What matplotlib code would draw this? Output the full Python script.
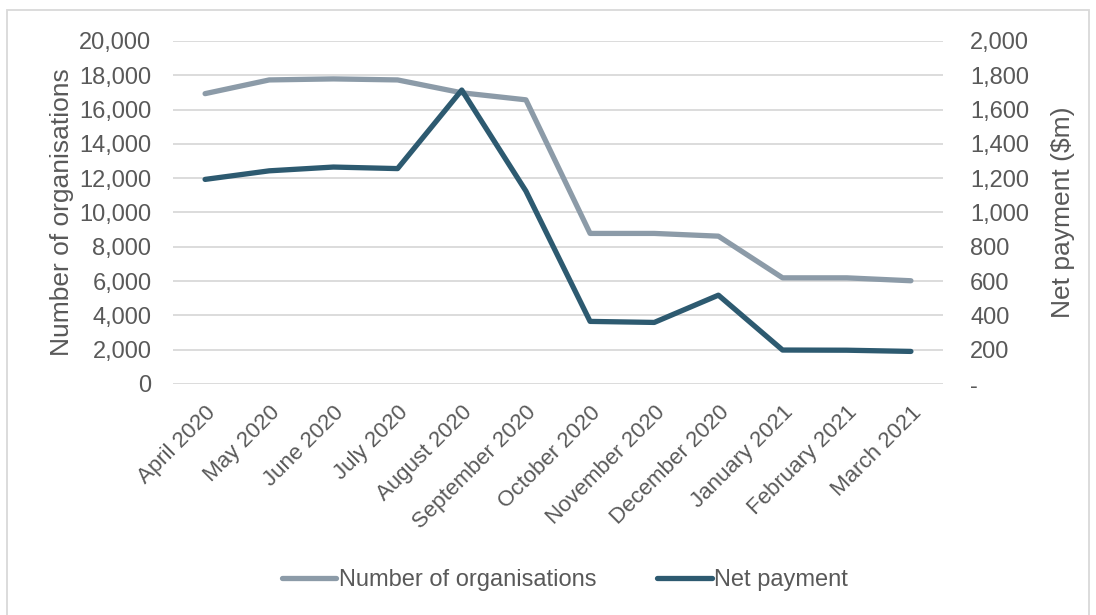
import matplotlib.pyplot as plt
import matplotlib.patches as patches
from matplotlib.ticker import FuncFormatter

plt.rcParams['font.family'] = ['Liberation Sans', 'DejaVu Sans']

months = ['April 2020', 'May 2020', 'June 2020', 'July 2020', 'August 2020',
          'September 2020', 'October 2020', 'November 2020', 'December 2020',
          'January 2021', 'February 2021', 'March 2021']
organisations = [16930, 17730, 17790, 17730, 16980, 16570,
                 8780, 8780, 8620, 6190, 6190, 6020]
net_payment = [1193, 1243, 1265, 1256, 1714, 1125,
               365, 359, 518, 198, 197, 190]

text_col = '#595959'
grey_col = '#8C9BA8'
dark_col = '#2D5A70'

fig = plt.figure(figsize=(10.96, 6.15), dpi=100)
ax = fig.add_axes([173/1096, 1 - 384/615, (943 - 173)/1096, (384 - 41)/615])
ax2 = ax.twinx()

x = list(range(len(months)))
l1, = ax.plot(x, organisations, color=grey_col, lw=3.8, solid_capstyle='round',
              solid_joinstyle='round', label='Number of organisations')
l2, = ax2.plot(x, net_payment, color=dark_col, lw=3.8, solid_capstyle='round',
               solid_joinstyle='round', label='Net payment')

ax.set_xlim(-0.5, len(months) - 0.5)
ax.set_ylim(0, 20000)
ax2.set_ylim(0, 2000)
ax.set_yticks(range(0, 20001, 2000))
ax2.set_yticks(range(0, 2001, 200))
ax.yaxis.set_major_formatter(FuncFormatter(lambda v, p: f'{int(v):,}'))
ax2.yaxis.set_major_formatter(FuncFormatter(lambda v, p: '-' if v == 0 else f'{int(v):,}'))
ax.grid(axis='y', color='#D9D9D9', lw=1.3)
ax.set_axisbelow(True)

for a in (ax, ax2):
    for s in a.spines.values():
        s.set_visible(False)
    a.tick_params(length=0, labelsize=17, colors=text_col)
ax.tick_params(axis='y', pad=15.5)
ax2.tick_params(axis='y', pad=19.5)

ax.set_xticks(x)
ax.set_xticklabels(months, rotation=45, ha='right', rotation_mode='anchor')
ax.tick_params(axis='x', pad=13, labelsize=16)

ax.set_ylabel('Number of organisations', fontsize=19, color=text_col, labelpad=4)
ax2.set_ylabel('Net payment ($m)', fontsize=19, color=text_col, labelpad=16)

fig.legend([l1, l2], ['Number of organisations', 'Net payment'], loc='center',
           bbox_to_anchor=(0.5155, 1 - 580/615), ncol=2, frameon=False, fontsize=17,
           handlelength=2.3, handletextpad=0.1, columnspacing=2.6,
           labelcolor=text_col)

fig.patches.append(patches.Rectangle((7/1096, -0.05), 1082/1096, 1 - 10/615 + 0.05,
                                     transform=fig.transFigure, fill=False,
                                     edgecolor='#D9D9D9', lw=1.3))

fig.savefig('out.png', dpi=100)
